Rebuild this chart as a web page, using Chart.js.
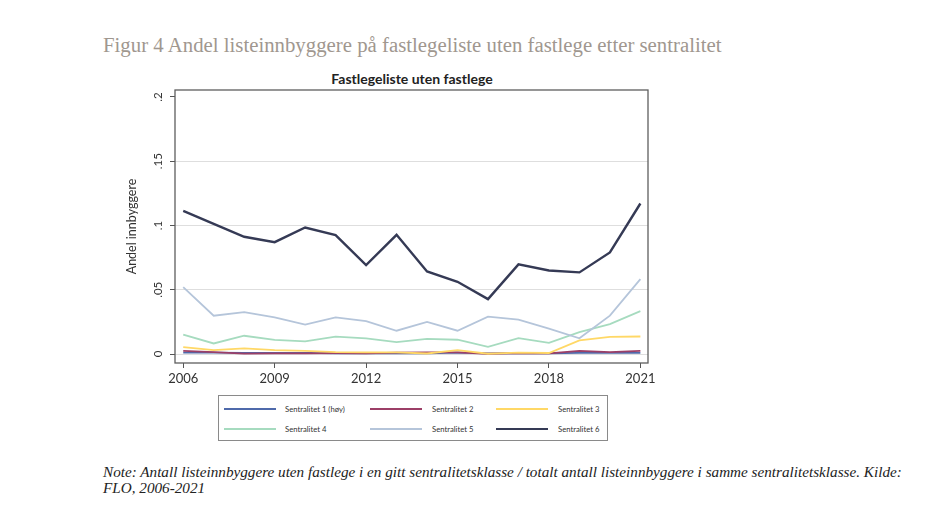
<!DOCTYPE html>
<html lang="no">
<head>
<meta charset="utf-8">
<title>Figur 4</title>
<script src="https://cdn.jsdelivr.net/npm/chart.js@4.4.1/dist/chart.umd.min.js"></script>
<style>
  html, body { margin: 0; padding: 0; background: #fff; }
  body { width: 930px; height: 507px; position: relative; overflow: hidden; }
  #figTitle { position: absolute; left: 103px; top: 33px; font-family: "Liberation Serif", serif; font-size: 20.8px; color: #a0978f; white-space: nowrap; }
  #chartTitle { position: absolute; left: 262px; width: 300px; top: 70px; text-align: center; font-family: Lato, sans-serif; font-weight: 700; font-size: 14px; color: #222; }
  #wrap { position: absolute; left: 0; top: 0; width: 930px; height: 390px; }
  #legend { position: absolute; left: 218px; top: 395px; width: 390px; height: 46px; border: 1px solid #8a8a8a; box-sizing: border-box; }
  #legend .line { position: absolute; height: 2px; width: 52px; }
  #legend .lbl { position: absolute; font-family: Lato, sans-serif; font-size: 7.7px; color: #333; white-space: nowrap; line-height: 9px; }
  #note { position: absolute; left: 103px; top: 463.5px; font-family: "Liberation Serif", serif; font-style: italic; font-size: 15.2px; line-height: 16.7px; color: #222; white-space: nowrap; }
</style>
</head>
<body>
<div id="figTitle">Figur 4 Andel listeinnbyggere på fastlegeliste uten fastlege etter sentralitet</div>
<div id="chartTitle">Fastlegeliste uten fastlege</div>
<div id="wrap"><canvas id="chart"></canvas></div>
<div id="legend"></div>
<div id="note">Note: Antall listeinnbyggere uten fastlege i en gitt sentralitetsklasse / totalt antall listeinnbyggere i samme sentralitetsklasse. Kilde:<br>FLO, 2006-2021</div>

<script>
// data
const years = [2006, 2007, 2008, 2009, 2010, 2011, 2012, 2013, 2014, 2015, 2016, 2017, 2018, 2019, 2020, 2021];
const seriesNames = ['Sentralitet 1 (høy)', 'Sentralitet 2', 'Sentralitet 3', 'Sentralitet 4', 'Sentralitet 5', 'Sentralitet 6'];
const sentralitet1 = [0.0010, 0.0010, 0.0008, 0.0008, 0.0008, 0.0006, 0.0006, 0.0005, 0.0005, 0.0010, 0.0005, 0.0006, 0.0006, 0.0008, 0.0009, 0.0009];
const sentralitet2 = [0.0025, 0.0015, 0.0003, 0.0005, 0.0005, 0.0007, 0.0005, 0.0010, 0.0012, 0.0012, 0.0002, 0.0007, 0.0005, 0.0025, 0.0015, 0.0025];
const sentralitet3 = [0.0054, 0.0030, 0.0044, 0.0030, 0.0024, 0.0015, 0.0012, 0.0012, 0.0004, 0.0030, 0.0002, 0.0010, 0.0008, 0.0106, 0.0134, 0.0136];
const sentralitet4 = [0.0150, 0.0082, 0.0142, 0.0110, 0.0098, 0.0135, 0.0122, 0.0093, 0.0117, 0.0111, 0.0055, 0.0124, 0.0086, 0.0170, 0.0233, 0.0334];
const sentralitet5 = [0.0521, 0.0298, 0.0326, 0.0285, 0.0228, 0.0285, 0.0256, 0.0181, 0.0249, 0.0181, 0.0290, 0.0267, 0.0197, 0.0122, 0.0298, 0.0583];
const sentralitet6 = [0.1114, 0.1013, 0.0912, 0.0870, 0.0984, 0.0925, 0.0692, 0.0927, 0.0642, 0.0562, 0.0427, 0.0697, 0.0650, 0.0635, 0.0790, 0.1171];
const xTicks = [2006, 2009, 2012, 2015, 2018, 2021];
const yTicks = [0, 0.05, 0.1, 0.15, 0.2];
const yTickLabels = ['0', '.05', '.1', '.15', '.2'];

const allSeries = [sentralitet1, sentralitet2, sentralitet3, sentralitet4, sentralitet5, sentralitet6];
const colors = ['#4f6aab', '#9c3f67', '#ffd866', '#a6dbbf', '#b5c5da', '#353a55'];
const widths = [1.8, 1.8, 1.8, 1.8, 1.8, 2.4];

// frame round the plot region, like the stata graph
const framePlugin = {
  id: 'frame',
  afterDraw(chart) {
    const { ctx, chartArea: a } = chart;
    ctx.save();
    ctx.strokeStyle = '#5e5e5e';
    ctx.lineWidth = 1.3;
    ctx.strokeRect(a.left, a.top, a.right - a.left, a.bottom - a.top);
    ctx.restore();
  }
};

Chart.defaults.font.family = 'Lato, sans-serif';

const chart = new Chart(document.getElementById('chart'), {
  type: 'line',
  data: {
    datasets: allSeries.map((s, i) => ({
      label: seriesNames[i],
      data: years.map((yr, j) => ({ x: yr, y: s[j] })),
      borderColor: colors[i],
      backgroundColor: colors[i],
      borderWidth: widths[i],
      pointRadius: 0,
      tension: 0,
      order: allSeries.length - i
    }))
  },
  options: {
    responsive: true,
    maintainAspectRatio: false,
    animation: false,
    layout: { padding: { left: 110, right: 282, top: 90, bottom: 0 } },
    plugins: { legend: { display: false }, tooltip: { enabled: false } },
    scales: {
      x: {
        type: 'linear',
        min: 2005.73,
        max: 2021.25,
        afterBuildTicks: s => { s.ticks = xTicks.map(v => ({ value: v })); },
        afterFit: s => { s.height = 27; },
        ticks: { callback: v => String(v), color: '#333', font: { size: 13 }, padding: 3, maxRotation: 0, autoSkip: false },
        grid: { drawOnChartArea: false, tickLength: 5, tickColor: '#555' },
        border: { display: false }
      },
      y: {
        min: -0.007,
        max: 0.2054,
        afterBuildTicks: s => { s.ticks = yTicks.map(v => ({ value: v })); },
        afterFit: s => { s.width = 65; },
        ticks: {
          callback: v => yTickLabels[yTicks.indexOf(v)],
          minRotation: 90, maxRotation: 90, crossAlign: 'center',
          color: '#333', font: { size: 11.5 }, padding: 4, autoSkip: false
        },
        grid: {
          color: c => (c.tick && c.tick.value === 0.2) ? 'rgba(0,0,0,0)' : '#dedede',
          tickLength: 5, tickColor: '#555'
        },
        border: { display: false },
        title: { display: true, text: 'Andel innbyggere', color: '#333', font: { size: 12.5 }, padding: { top: 14, bottom: 0 } }
      }
    }
  },
  plugins: [framePlugin]
});

// legend box, three columns by two rows
const legendCols = [[5, 66], [151, 213], [277, 339]];
const legendRows = [13, 33];
const legend = document.getElementById('legend');
chart.data.datasets.forEach((ds, i) => {
  const col = legendCols[i % 3];
  const row = legendRows[Math.floor(i / 3)];
  const line = document.createElement('div');
  line.className = 'line';
  line.style.left = col[0] + 'px';
  line.style.top = (row - 1) + 'px';
  line.style.background = ds.borderColor;
  const lbl = document.createElement('div');
  lbl.className = 'lbl';
  lbl.style.left = col[1] + 'px';
  lbl.style.top = (row - 4.5) + 'px';
  lbl.textContent = ds.label;
  legend.appendChild(line);
  legend.appendChild(lbl);
});
</script>
</body>
</html>
